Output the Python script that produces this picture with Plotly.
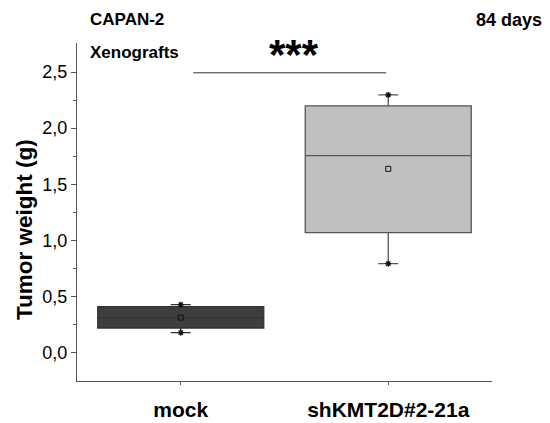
import plotly.graph_objects as go

# Tumor weight summary statistics per group (g)
groups = ["mock", "shKMT2D#2-21a"]
q1 = [0.217, 1.068]
median = [0.309, 1.755]
q3 = [0.407, 2.199]
lower_whisker = [0.175, 0.791]
upper_whisker = [0.425, 2.297]
means = [0.31, 1.637]
fills = ["#3e3e3e", "#c0c0c0"]
edges = ["#333333", "#555555"]
y_ticks = [0.0, 0.5, 1.0, 1.5, 2.0, 2.5]
y_minor = [0.25, 0.75, 1.25, 1.75, 2.25]
significance = "***"
sig_level = 2.494

x_pos = list(range(len(groups)))

# plot-area geometry (pixels)
W, H = 550, 423
ML, MR, MT, MB = 77, 58, 43, 42
plot_w = W - ML - MR
plot_h = H - MT - MB


def px_to_paper(px, py):
    return (px - ML) / plot_w, (H - MB - py) / plot_h


fig = go.Figure()
for i, g in enumerate(groups):
    fig.add_trace(go.Box(
        x=[x_pos[i]], q1=[q1[i]], median=[median[i]], q3=[q3[i]],
        lowerfence=[lower_whisker[i]], upperfence=[upper_whisker[i]],
        width=0.8, whiskerwidth=0.12, fillcolor=fills[i],
        line=dict(color=edges[i], width=1.3), boxpoints=False,
        name=g, showlegend=False, hoverinfo="skip",
    ))

# min / max markers
fig.add_trace(go.Scatter(
    x=x_pos + x_pos, y=lower_whisker + upper_whisker, mode="markers",
    marker=dict(symbol="asterisk", size=5, line=dict(color="#111111", width=1.3)),
    showlegend=False, hoverinfo="skip",
))
# mean markers
fig.add_trace(go.Scatter(
    x=x_pos, y=means, mode="markers",
    marker=dict(symbol="square-open", size=5, color="#111111", line=dict(width=1)),
    showlegend=False, hoverinfo="skip",
))

# significance bracket between the two groups
fig.add_shape(type="line", x0=0.06, x1=0.99, y0=sig_level, y1=sig_level,
              xref="x", yref="y", line=dict(color="#333333", width=1))
sx, sy = px_to_paper(294, 55)
fig.add_annotation(x=sx, y=sy, xref="paper", yref="paper", text="<b>" + significance + "</b>",
                   showarrow=False, yanchor="middle", font=dict(size=42, color="black"))

# y-axis title
tx, ty = px_to_paper(24, 230)
fig.add_annotation(x=tx, y=ty, xref="paper", yref="paper", text="<b>Tumor weight (g)</b>",
                   textangle=-90, showarrow=False, xanchor="center", yanchor="middle",
                   font=dict(size=22.5, color="black"))

# corner labels
for txt, px, py, anchor, size in [("CAPAN-2", 88, 20, "left", 17),
                                  ("Xenografts", 88, 52, "left", 17),
                                  ("84 days", 544, 20, "right", 18)]:
    xp, yp = px_to_paper(px, py)
    fig.add_annotation(x=xp, y=yp, xref="paper", yref="paper", text="<b>" + txt + "</b>",
                       showarrow=False, xanchor=anchor, yanchor="middle",
                       font=dict(size=size, color="black"))

fig.update_layout(
    width=W, height=H,
    margin=dict(l=ML, r=MR, t=MT, b=MB, autoexpand=False),
    paper_bgcolor="white", plot_bgcolor="white",
    separators=",.",
    font=dict(family="Liberation Sans, Arial, sans-serif", color="black"),
    xaxis=dict(
        range=[-0.5, 1.5], tickvals=x_pos,
        ticktext=["<b>" + g + "</b>" for g in groups],
        tickfont=dict(size=21), showline=True, linecolor="#555555", linewidth=1.3,
        ticks="outside", ticklen=3, tickcolor="#555555", showgrid=False,
        zeroline=False, ticklabelstandoff=7, automargin=False,
    ),
    yaxis=dict(
        range=[-0.256, 2.76], tickvals=y_ticks,
        tickformat=".1f", tickfont=dict(size=18), showline=True,
        linecolor="#555555", linewidth=1.3, ticks="outside", ticklen=5,
        tickcolor="#555555", showgrid=False, zeroline=False, automargin=False,
        minor=dict(tickvals=y_minor, ticks="outside", ticklen=3, tickcolor="#555555"),
    ),
)

fig.write_html("out.html")
